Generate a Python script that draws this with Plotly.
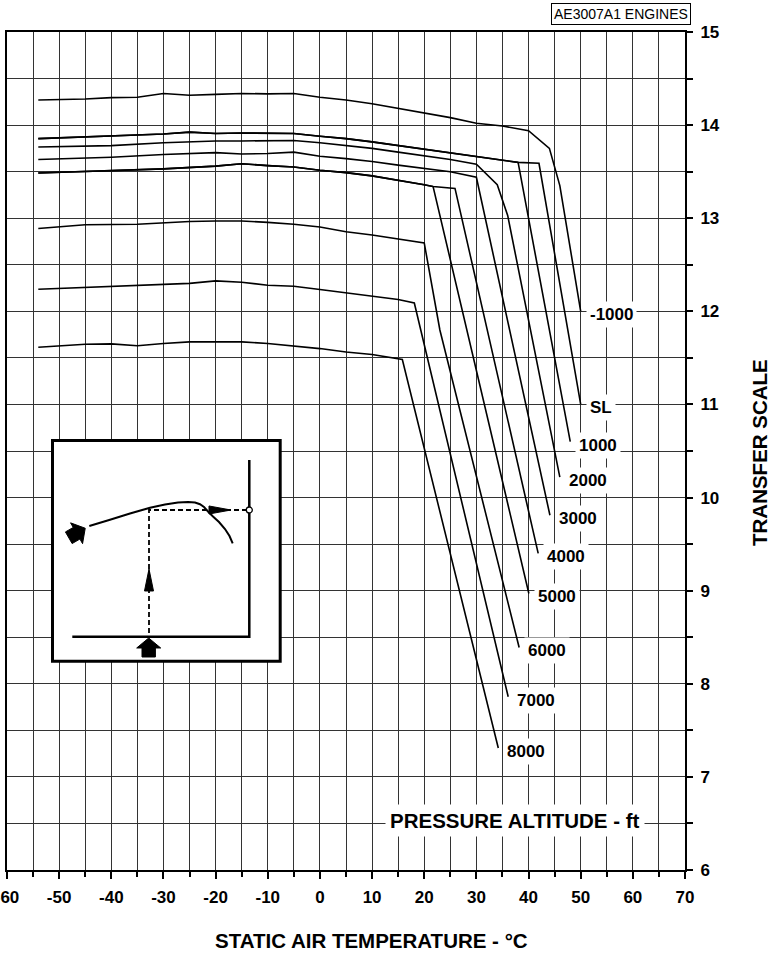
import math
import plotly.graph_objects as go

# ---------------------------------------------------------------------------
# Transfer scale vs static air temperature, one curve per pressure altitude
# ---------------------------------------------------------------------------
temp_m1000 = [-54, -45, -40, -35, -30, -25, -20, -15, -10, -5, 0, 5, 10, 15, 20, 25, 30, 35, 40, 44, 46, 50]
scale_m1000 = [14.27, 14.28, 14.295, 14.30, 14.34, 14.32, 14.33, 14.34, 14.335, 14.34, 14.30, 14.27,
               14.23, 14.18, 14.13, 14.08, 14.02, 13.99, 13.94, 13.75, 13.35, 12.0]

temp_sl = [-54, -50, -40, -30, -25, -20, -15, -10, -5, 0, 5, 10, 15, 20, 25, 38, 42, 50]
scale_sl = [13.855, 13.862, 13.88, 13.905, 13.925, 13.91, 13.915, 13.915, 13.91, 13.88, 13.855,
            13.82, 13.78, 13.74, 13.70, 13.60, 13.59, 11.0]

temp_1000 = [-54, -50, -40, -30, -25, -20, -15, -10, -5, 0, 5, 10, 15, 20, 25, 38, 48]
scale_1000 = [13.855, 13.862, 13.88, 13.905, 13.925, 13.91, 13.915, 13.915, 13.91, 13.88, 13.855,
              13.82, 13.78, 13.74, 13.70, 13.60, 10.6]

temp_2000 = [-54, -40, -30, -20, -15, -10, -5, 0, 5, 10, 15, 20, 25, 30, 34, 36, 46]
scale_2000 = [13.765, 13.78, 13.81, 13.83, 13.83, 13.835, 13.835, 13.81, 13.78, 13.75, 13.71,
              13.67, 13.63, 13.58, 13.36, 13.03, 10.22]

temp_3000 = [-54, -40, -30, -20, -15, -10, -5, 0, 5, 10, 15, 20, 25, 30, 44.1]
scale_3000 = [13.63, 13.655, 13.685, 13.705, 13.69, 13.695, 13.71, 13.665, 13.64, 13.61, 13.57,
              13.535, 13.50, 13.44, 9.81]

temp_4000 = [-54, -45, -40, -30, -20, -15, -10, -5, 0, 5, 10, 15, 20, 21.7, 25.9, 41.85]
scale_4000 = [13.485, 13.50, 13.51, 13.53, 13.56, 13.585, 13.565, 13.55, 13.515, 13.49, 13.455,
              13.41, 13.36, 13.34, 13.32, 9.40]

temp_5000 = [-54, -45, -40, -30, -20, -15, -10, -5, 0, 5, 10, 15, 20, 21.7, 40.06]
scale_5000 = [13.485, 13.50, 13.51, 13.53, 13.56, 13.585, 13.565, 13.55, 13.515, 13.49, 13.455,
              13.41, 13.36, 13.34, 8.97]

temp_6000 = [-54, -45, -35, -25, -20, -15, -10, -5, 0, 5, 10, 15, 20, 23, 38.2]
scale_6000 = [12.89, 12.93, 12.935, 12.965, 12.97, 12.97, 12.955, 12.935, 12.905, 12.855, 12.82,
              12.775, 12.735, 11.80, 8.39]

temp_7000 = [-54, -40, -30, -25, -20, -15, -10, -5, 0, 5, 10, 15, 18.1, 36.1]
scale_7000 = [12.237, 12.27, 12.288, 12.30, 12.327, 12.313, 12.28, 12.27, 12.234, 12.198, 12.162,
              12.127, 12.09, 7.86]

temp_8000 = [-54, -45, -40, -35, -30, -25, -20, -15, -10, -5, 0, 5, 10, 15.8, 34.2]
scale_8000 = [11.615, 11.647, 11.65, 11.63, 11.655, 11.672, 11.672, 11.672, 11.655, 11.63, 11.60,
              11.564, 11.536, 11.483, 7.31]

altitude_labels = ["-1000", "SL", "1000", "2000", "3000", "4000", "5000", "6000", "7000", "8000"]
x_tick_vals = [-60, -50, -40, -30, -20, -10, 0, 10, 20, 30, 40, 50, 60, 70]
x_tick_text = ["-60", "-50", "-40", "-30", "-20", "-10", "0", "10", "20", "30", "40", "50", "60", "70"]
y_tick_vals = [6, 7, 8, 9, 10, 11, 12, 13, 14, 15]

curves = [
    (temp_m1000, scale_m1000), (temp_sl, scale_sl), (temp_1000, scale_1000),
    (temp_2000, scale_2000), (temp_3000, scale_3000), (temp_4000, scale_4000),
    (temp_5000, scale_5000), (temp_6000, scale_6000), (temp_7000, scale_7000),
    (temp_8000, scale_8000),
]

# ---------------------------------------------------------------------------
# Page geometry
# ---------------------------------------------------------------------------
W, H = 777, 954
ML, MR, MT, MB = 7, 92, 32, 84
PW, PH = W - ML - MR, H - MT - MB
FONT = "Liberation Sans, Arial, sans-serif"
GRID = "#333333"


def px(x):
    """Horizontal page pixel -> paper fraction."""
    return (x - ML) / PW


def py(y):
    """Vertical page pixel -> paper fraction."""
    return (H - MB - y) / PH


def path(points, close=False):
    s = "M " + " L ".join(f"{px(a):.5f},{py(b):.5f}" for a, b in points)
    return s + (" Z" if close else "")


fig = go.Figure()

for (t, v) in curves:
    fig.add_trace(go.Scatter(x=t, y=v, mode="lines",
                             line=dict(color="black", width=1.6),
                             hoverinfo="skip", showlegend=False))

annotations = []
for (t, v), name in zip(curves, altitude_labels):
    annotations.append(dict(
        x=t[-1], y=v[-1], xref="x", yref="y", text=f"<b>{name}</b>",
        showarrow=False, xanchor="left", yanchor="middle", xshift=5, yshift=-3.5,
        bgcolor="white", borderpad=3,
        font=dict(family=FONT, size=17, color="black")))

annotations += [
    dict(x=px(515), y=py(820), xref="paper", yref="paper",
         text="<b>PRESSURE ALTITUDE - ft</b>", showarrow=False,
         xanchor="center", yanchor="middle", bgcolor="white", borderpad=4,
         font=dict(family=FONT, size=20.5, color="black")),
    dict(x=px(620.7), y=py(13.7), xref="paper", yref="paper",
         text="AE3007A1 ENGINES", showarrow=False, xanchor="center", yanchor="middle",
         bordercolor="black", borderwidth=1, borderpad=2, bgcolor="white",
         font=dict(family=FONT, size=14, color="black")),
    dict(x=px(371.5), y=py(940), xref="paper", yref="paper",
         text="<b>STATIC AIR TEMPERATURE - °C</b>", showarrow=False,
         xanchor="center", yanchor="middle",
         font=dict(family=FONT, size=20.5, color="black")),
    dict(x=px(760), y=py(453), xref="paper", yref="paper",
         text="<b>TRANSFER SCALE</b>", showarrow=False, textangle=-90,
         xanchor="center", yanchor="middle",
         font=dict(family=FONT, size=20.5, color="black")),
]

# ---------------------------------------------------------------------------
# "How to read" inset drawing
# ---------------------------------------------------------------------------
shapes = []
shapes.append(dict(type="rect", xref="paper", yref="paper",
                   x0=px(52.5), x1=px(280.2), y0=py(661.2), y1=py(440.5),
                   fillcolor="white", line=dict(color="black", width=3), layer="above"))
# chart frame (bottom and right axes)
shapes.append(dict(type="path", xref="paper", yref="paper",
                   path=path([(72.3, 636.7), (249.3, 636.7), (249.3, 460)]),
                   line=dict(color="black", width=2.5), layer="above"))
# sample curve
inset_curve = [(89.3, 526), (110, 519.8), (130, 513.5), (150, 507.7), (165, 504.6),
               (178, 502.6), (188, 502), (195, 502.6), (200, 504.2), (204, 507),
               (208, 511.5), (213, 516.5), (219, 522), (225, 529), (229.5, 536), (232.7, 543.3)]
shapes.append(dict(type="path", xref="paper", yref="paper", path=path(inset_curve),
                   line=dict(color="black", width=2), layer="above"))
# dashed reading lines
shapes.append(dict(type="path", xref="paper", yref="paper",
                   path=path([(149, 633), (149, 510), (246, 510)]),
                   line=dict(color="black", width=1.8, dash="5px,3px"), layer="above"))
# arrowheads on the reading lines
shapes.append(dict(type="path", xref="paper", yref="paper",
                   path=path([(149, 569), (153.5, 591), (144.5, 591)], close=True),
                   fillcolor="black", line=dict(color="black", width=1), layer="above"))
shapes.append(dict(type="path", xref="paper", yref="paper",
                   path=path([(231, 510), (209, 506), (209, 514)], close=True),
                   fillcolor="black", line=dict(color="black", width=1), layer="above"))
# read-out point on the transfer scale
shapes.append(dict(type="circle", xref="paper", yref="paper",
                   x0=px(246.3), x1=px(252.3), y0=py(513), y1=py(507),
                   fillcolor="white", line=dict(color="black", width=1.3), layer="above"))

# block entry arrows
block = [(0, -9.5), (12, 0.5), (6.7, 0.5), (6.7, 9.5), (-6.7, 9.5), (-6.7, 0.5), (-12, 0.5)]


def block_arrow(cx, cy, angle_deg):
    a = math.radians(angle_deg)
    pts = [(cx + x * math.cos(a) - y * math.sin(a), cy + x * math.sin(a) + y * math.cos(a))
           for x, y in block]
    return dict(type="path", xref="paper", yref="paper", path=path(pts, close=True),
                fillcolor="black", line=dict(color="black", width=1), layer="above")


shapes.append(block_arrow(148.7, 647.5, 0))
shapes.append(block_arrow(77, 533, 60))

fig.update_layout(
    width=W, height=H,
    margin=dict(l=ML, r=MR, t=MT, b=MB, pad=0, autoexpand=False),
    paper_bgcolor="white", plot_bgcolor="white",
    showlegend=False,
    annotations=annotations,
    shapes=shapes,
    xaxis=dict(
        range=[-60, 70], tickmode="array", tickvals=x_tick_vals, ticktext=x_tick_text,
        ticks="outside", ticklen=7, tickwidth=1.5, tickcolor="black",
        showgrid=True, gridcolor=GRID, gridwidth=1, zeroline=False,
        showline=True, linecolor="black", linewidth=2, mirror=True,
        automargin=False, ticklabelstandoff=4, ticklabeloverflow="allow",
        tickfont=dict(family=FONT, size=17, color="black", weight="bold"),
        minor=dict(tickmode="linear", tick0=-60, dtick=5, ticks="outside", ticklen=5,
                   tickwidth=1.5, tickcolor="black", showgrid=True, gridcolor=GRID, gridwidth=1),
    ),
    yaxis=dict(
        range=[6, 15], side="right", tickmode="array", tickvals=y_tick_vals,
        ticks="outside", ticklen=6, tickwidth=1.5, tickcolor="black",
        showgrid=True, gridcolor=GRID, gridwidth=1, zeroline=False,
        showline=True, linecolor="black", linewidth=2, mirror=True,
        automargin=False, ticklabelstandoff=4, ticklabeloverflow="allow",
        tickfont=dict(family=FONT, size=17, color="black", weight="bold"),
        minor=dict(tickmode="linear", tick0=6, dtick=0.5, ticks="outside", ticklen=6,
                   tickwidth=1.5, tickcolor="black", showgrid=True, gridcolor=GRID, gridwidth=1),
    ),
)

fig.write_html("out.html")
